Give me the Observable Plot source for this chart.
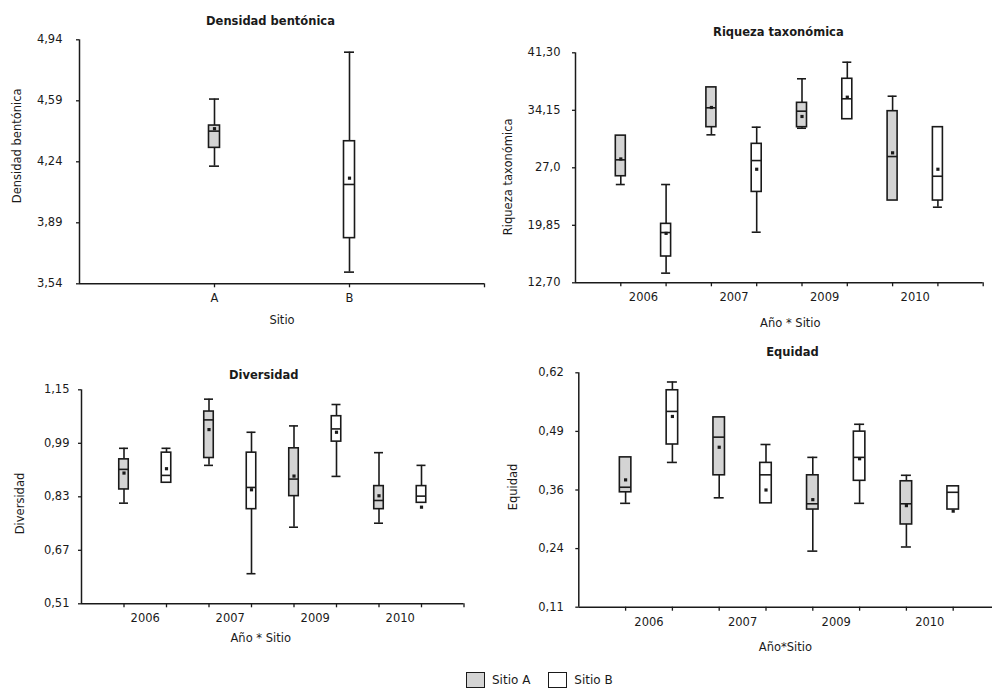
<!DOCTYPE html>
<html>
<head>
<meta charset="utf-8">
<script src="https://cdn.jsdelivr.net/npm/d3@7"></script>
<script src="https://cdn.jsdelivr.net/npm/@observablehq/plot@0.6"></script>
<style>
  body { margin: 0; background: #fff; }
  #fig { position: relative; width: 992px; height: 692px; overflow: hidden; background: #fff;
         font-family: "DejaVu Sans", sans-serif; color: #1a1a1a; }
  #fig svg { position: absolute; overflow: visible; max-width: none; }
  .legend { position: absolute; top: 672px; left: 466px; display: flex; align-items: center;
            font: 12px "DejaVu Sans", sans-serif; color: #1a1a1a; }
  .sw { width: 19px; height: 16px; border: 1.4px solid #1a1a1a; box-sizing: border-box; display: inline-block; }
  .legend span.t { margin: 0 18px 0 7px; }
</style>
</head>
<body>
<div id="fig"></div>
<script>
// ---- Densidad bentónica, by site ----
const densSites = ["A", "B"];
const densLow  = [4.215, 3.607];
const densQ1   = [4.320, 3.802];
const densMed  = [4.416, 4.110];
const densQ3   = [4.448, 4.358];
const densHigh = [4.600, 4.869];
const densMean = [4.430, 4.146];
const densTicks = [3.54, 3.89, 4.24, 4.59, 4.94];
const densTickLabels = ["3,54", "3,89", "4,24", "4,59", "4,94"];

// ---- Year x site groups shared by the other three panels ----
const years = ["2006", "2007", "2009", "2010"];
const groupSites = ["A", "B", "A", "B", "A", "B", "A", "B"];

// ---- Riqueza taxonómica ----
const riqLow  = [24.92, 13.90, 31.10, 18.99, 31.92, 33.04, 22.93, 22.10];
const riqQ1   = [25.95, 15.97, 32.05, 24.00, 32.05, 33.04, 22.93, 22.93];
const riqMed  = [27.99, 18.95, 34.46, 27.90, 34.04, 35.58, 28.40, 25.95];
const riqQ3   = [31.00, 20.03, 37.00, 29.98, 35.08, 38.07, 34.04, 32.05];
const riqHigh = [31.00, 24.92, 37.00, 32.05, 38.07, 40.13, 35.90, 32.05];
const riqMean = [28.10, 18.85, 34.50, 26.82, 33.38, 35.78, 28.86, 26.82];
const riqTicks = [12.70, 19.85, 27.0, 34.15, 41.30];
const riqTickLabels = ["12,70", "19,85", "27,0", "34,15", "41,30"];

// ---- Diversidad ----
const divLow  = [0.811, 0.872, 0.924, 0.600, 0.739, 0.891, 0.751, 0.812];
const divQ1   = [0.852, 0.872, 0.946, 0.793, 0.832, 0.995, 0.793, 0.812];
const divMed  = [0.912, 0.894, 1.060, 0.858, 0.883, 1.033, 0.819, 0.832];
const divQ3   = [0.942, 0.962, 1.085, 0.962, 0.975, 1.071, 0.862, 0.862];
const divHigh = [0.975, 0.975, 1.122, 1.023, 1.042, 1.106, 0.962, 0.924];
const divMean = [0.901, 0.914, 1.031, 0.851, 0.892, 1.023, 0.833, 0.799];
const divTicks = [0.51, 0.67, 0.83, 0.99, 1.15];
const divTickLabels = ["0,51", "0,67", "0,83", "0,99", "1,15"];

// ---- Equidad ----
const eqLow  = [0.336, 0.425, 0.348, 0.336, 0.232, 0.336, 0.241, 0.3225];
const eqQ1   = [0.360, 0.464, 0.397, 0.336, 0.3225, 0.385, 0.290, 0.3225];
const eqMed  = [0.371, 0.536, 0.480, 0.398, 0.335, 0.436, 0.335, 0.360];
const eqQ3   = [0.436, 0.582, 0.523, 0.424, 0.397, 0.492, 0.384, 0.373];
const eqHigh = [0.436, 0.600, 0.523, 0.464, 0.436, 0.508, 0.397, 0.373];
const eqMean = [0.387, 0.525, 0.458, 0.365, 0.344, 0.433, 0.331, 0.319];
const eqTicks = [0.11, 0.2375, 0.365, 0.4925, 0.62];
const eqTickLabels = ["0,11", "0,24", "0,36", "0,49", "0,62"];

const ink = "#1a1a1a";
const fillA = "#d4d4d4";
const fillB = "#ffffff";
const lw = 1.6;

function rowsOf(sites, lo, q1, med, q3, hi, mean) {
  return sites.map((s, i) => ({pos: i + 1, site: s, lo: lo[i], q1: q1[i], med: med[i], q3: q3[i], hi: hi[i], mean: mean[i]}));
}

// One box-plot panel built from precomputed summaries
function boxPanel(c) {
  const unit = (c.width - c.ml - c.mr) / c.xMax;
  const hw = c.boxPx / 2 / unit;
  const cw = c.capPx / 2 / unit;
  const rows = c.rows;
  const tickLabel = new Map(c.yTicks.map((t, i) => [t, c.yTickLabels[i]]));
  const xTicks = d3.range(1, Math.floor(c.xMax) + 1);
  const label = {fill: ink, textAnchor: "middle", lineAnchor: "middle"};
  const svg = Plot.plot({
    width: c.width,
    height: c.height,
    marginLeft: c.ml, marginRight: c.mr, marginTop: c.mt, marginBottom: c.mb,
    x: {domain: [0, c.xMax]},
    y: {domain: [c.yTicks[0], c.yTicks[c.yTicks.length - 1]]},
    style: {fontFamily: '"DejaVu Sans", sans-serif', fontSize: "11.5px", color: ink, background: "transparent", overflow: "visible"},
    marks: [
      // whiskers
      Plot.ruleX(rows.filter(d => d.lo < d.q1), {x: "pos", y1: "lo", y2: "q1", stroke: ink, strokeWidth: lw}),
      Plot.ruleX(rows.filter(d => d.hi > d.q3), {x: "pos", y1: "q3", y2: "hi", stroke: ink, strokeWidth: lw}),
      Plot.ruleY(rows.filter(d => d.lo < d.q1), {y: "lo", x1: d => d.pos - cw, x2: d => d.pos + cw, stroke: ink, strokeWidth: lw}),
      Plot.ruleY(rows.filter(d => d.hi > d.q3), {y: "hi", x1: d => d.pos - cw, x2: d => d.pos + cw, stroke: ink, strokeWidth: lw}),
      // boxes
      Plot.rect(rows, {x1: d => d.pos - hw, x2: d => d.pos + hw, y1: "q1", y2: "q3",
        fill: d => d.site === "A" ? fillA : fillB, stroke: ink, strokeWidth: lw}),
      // medians
      Plot.ruleY(rows, {y: "med", x1: d => d.pos - hw, x2: d => d.pos + hw, stroke: ink, strokeWidth: lw}),
      // means
      Plot.dot(rows, {x: "pos", y: "mean", symbol: "square", r: 1.8, fill: ink, stroke: null}),
      // axes
      Plot.ruleX([0], {stroke: ink, strokeWidth: 1.5}),
      Plot.ruleY([c.yTicks[0]], {stroke: ink, strokeWidth: 1.5}),
      Plot.axisY({ticks: c.yTicks, tickFormat: d => tickLabel.get(d), tickSize: 3, tickPadding: c.tickPad, label: null, strokeWidth: 1.3}),
      Plot.axisX({ticks: xTicks, tickFormat: () => "", tickSize: 4, label: null, strokeWidth: 1.3}),
      // group labels under the axis
      Plot.text(c.groups, {x: "at", text: "label", frameAnchor: "bottom", dy: c.groupDy, ...label}),
      // titles
      Plot.text([c.title], {text: d => d, frameAnchor: "top", dx: c.titleDx, dy: c.titleDy, fontWeight: "bold", ...label}),
      Plot.text([c.yTitle], {text: d => d, frameAnchor: "left", rotate: -90, dx: c.yTitleDx, dy: c.yTitleDy, ...label}),
      Plot.text([c.xTitle], {text: d => d, frameAnchor: "bottom", dx: c.xTitleDx, dy: c.xTitleDy, ...label})
    ]
  });
  svg.style.left = c.left + "px";
  svg.style.top = c.top + "px";
  return svg;
}

const yearGroups = years.map((y, i) => ({label: y, at: 2 * i + 1.5}));

const panels = [
  {
    rows: rowsOf(densSites, densLow, densQ1, densMed, densQ3, densHigh, densMean),
    yTicks: densTicks, yTickLabels: densTickLabels,
    groups: densSites.map((s, i) => ({label: s, at: i + 1})),
    title: "Densidad bentónica", yTitle: "Densidad bentónica", xTitle: "Sitio",
    left: 0, top: 0, width: 495, height: 330, ml: 79, mr: 11, mt: 39.3, mb: 46.7, xMax: 3,
    boxPx: 11, capPx: 10, tickPad: 14, groupDy: 15,
    titleDx: -11.5, titleDy: -18.3, yTitleDx: -62, yTitleDy: -16, xTitleDx: 0, xTitleDy: 37
  },
  {
    rows: rowsOf(groupSites, riqLow, riqQ1, riqMed, riqQ3, riqHigh, riqMean),
    yTicks: riqTicks, yTickLabels: riqTickLabels, groups: yearGroups,
    title: "Riqueza taxonómica", yTitle: "Riqueza taxonómica", xTitle: "Año * Sitio",
    left: 490, top: 0, width: 502, height: 335, ml: 85, mr: 9.3, mt: 52.3, mb: 52.7, xMax: 9,
    boxPx: 10, capPx: 9, tickPad: 12, groupDy: 14.4,
    titleDx: -1, titleDy: -20.3, yTitleDx: -67, yTitleDy: 9, xTitleDx: 11, xTitleDy: 40.7
  },
  {
    rows: rowsOf(groupSites, divLow, divQ1, divMed, divQ3, divHigh, divMean),
    yTicks: divTicks, yTickLabels: divTickLabels, groups: yearGroups,
    title: "Diversidad", yTitle: "Diversidad", xTitle: "Año * Sitio",
    left: 0, top: 340, width: 495, height: 320, ml: 81, mr: 31.5, mt: 49.3, mb: 56.7, xMax: 9,
    boxPx: 9.5, capPx: 9, tickPad: 9, groupDy: 14.4,
    titleDx: -9, titleDy: -14.3, yTitleDx: -61, yTitleDy: 6.7, xTitleDx: -12, xTitleDy: 34.7
  },
  {
    rows: rowsOf(groupSites, eqLow, eqQ1, eqMed, eqQ3, eqHigh, eqMean),
    yTicks: eqTicks, yTickLabels: eqTickLabels, groups: yearGroups,
    title: "Equidad", yTitle: "Equidad", xTitle: "Año*Sitio",
    left: 490, top: 340, width: 510, height: 320, ml: 88.3, mr: 0.5, mt: 32.3, mb: 53.3, xMax: 9,
    boxPx: 11.5, capPx: 10, tickPad: 12, groupDy: 15,
    titleDx: 3, titleDy: -20, yTitleDx: -65, yTitleDy: -3, xTitleDx: -4, xTitleDy: 40
  }
];

const fig = document.getElementById("fig");
for (const p of panels) fig.appendChild(boxPanel(p));

// legend
const legend = document.createElement("div");
legend.className = "legend";
[["Sitio A", fillA], ["Sitio B", fillB]].forEach(([name, color]) => {
  const sw = document.createElement("span");
  sw.className = "sw";
  sw.style.background = color;
  const t = document.createElement("span");
  t.className = "t";
  t.textContent = name;
  legend.append(sw, t);
});
fig.appendChild(legend);
</script>
</body>
</html>
